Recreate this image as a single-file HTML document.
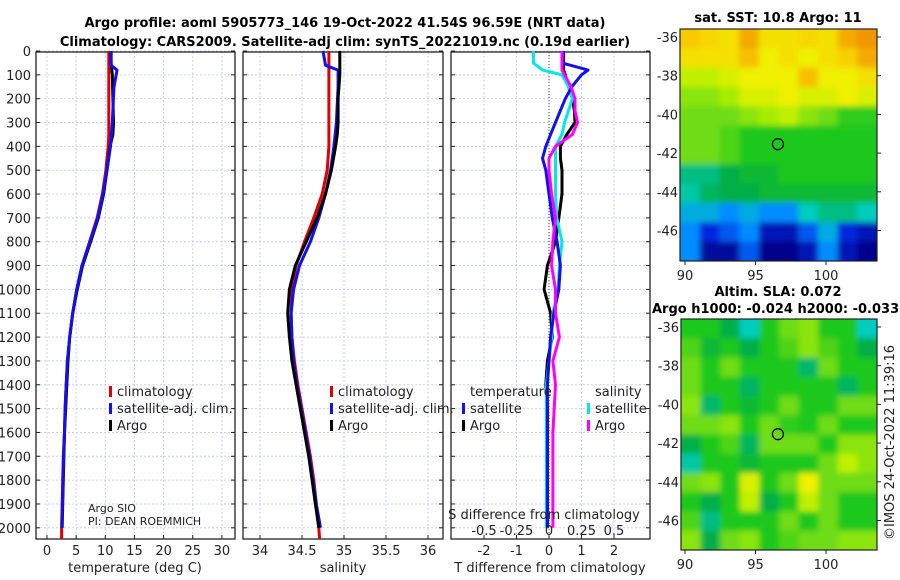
<!DOCTYPE html>
<html><head><meta charset="utf-8"><style>
html,body{margin:0;padding:0;background:#fff;}
svg{display:block;font-family:"DejaVu Sans","Liberation Sans",sans-serif;}
</style></head><body>
<svg id="c" width="900" height="580" viewBox="0 0 900 580" xmlns="http://www.w3.org/2000/svg">
<defs>
<filter id="blur" x="-5%" y="-5%" width="110%" height="110%"><feGaussianBlur stdDeviation="3"/></filter>
<clipPath id="clip1"><rect x="680" y="29" width="197" height="232"/></clipPath>
<clipPath id="clip2"><rect x="681" y="319" width="196" height="231"/></clipPath>
</defs>
<text x="345" y="27" font-size="13" font-weight="bold" text-anchor="middle">Argo profile: aoml 5905773_146 19-Oct-2022 41.54S 96.59E (NRT data)</text>
<text x="345" y="46" font-size="13" font-weight="bold" text-anchor="middle">Climatology: CARS2009. Satellite-adj clim: synTS_20221019.nc (0.19d earlier)</text>
<text x="778" y="22" font-size="13" font-weight="bold" text-anchor="middle">sat. SST: 10.8 Argo: 11</text>
<text x="778" y="296" font-size="13" font-weight="bold" text-anchor="middle">Altim. SLA: 0.072</text>
<text x="652" y="313" font-size="13" font-weight="bold">Argo h1000: -0.024 h2000: -0.033</text>
<text transform="translate(894,540) rotate(-90)" font-size="13" fill="#222">©IMOS 24-Oct-2022 11:39:16</text>
</svg>
<script>
// ---- data ----
const depthTicks=[0,100,200,300,400,500,600,700,800,900,1000,1100,1200,1300,1400,1500,1600,1700,1800,1900,2000];
const tempTicks=[0,5,10,15,20,25,30];
const salTicks=[34,34.5,35,35.5,36];
const salTickLabels=["34","34.5","35","35.5","36"];
const tdTicks=[-2,-1,0,1,2];
const sdTicks=[-0.5,-0.25,0,0.25,0.5];
const sdTickLabels=["-0.5","-0.25","0","0.25","0.5"];
const depths=[0,50,100,200,300,350,400,500,600,700,800,900,1000,1100,1200,1300,1400,1500,1600,1700,1800,1900,2000];
const tempArgo=[11,11,11.2,11.3,11.4,11.3,10.8,10.3,9.7,8.8,7.5,6.1,5.2,4.4,3.9,3.6,3.4,3.2,3.0,2.9,2.8,2.7,2.6];
const depthsClim=[0,50,100,200,300,350,400,500,600,700,800,900,1000,1100,1200,1300,1400,1500,1600,1700,1800,1900,2000,2100];
const tempClim=[10.6,10.6,10.6,10.6,10.6,10.6,10.5,10.1,9.5,8.6,7.3,6.0,5.1,4.4,3.9,3.5,3.3,3.1,3.0,2.8,2.7,2.6,2.5,2.5];
const depthsSat=[0,60,80,150,300,400,500,600,700,800,900,1000,1100,1200,1300,1400,1500,1600,1700,1800,1900,2000];
const tempSat=[11,11,12,11.5,11.2,10.9,10.3,9.6,8.7,7.4,6.0,5.1,4.4,3.9,3.5,3.3,3.1,3.0,2.85,2.75,2.65,2.55];
const salArgo=[34.95,34.95,34.95,34.93,34.93,34.92,34.9,34.85,34.78,34.68,34.55,34.42,34.35,34.33,34.35,34.38,34.43,34.48,34.53,34.58,34.62,34.66,34.7];
const salClim=[34.82,34.82,34.82,34.82,34.82,34.82,34.82,34.8,34.74,34.64,34.53,34.43,34.38,34.37,34.38,34.41,34.45,34.5,34.55,34.6,34.64,34.67,34.7,34.71];
const salSat=[34.75,34.78,34.93,34.93,34.91,34.88,34.84,34.78,34.7,34.6,34.47,34.4,34.37,34.38,34.4,34.44,34.49,34.54,34.59,34.63,34.67,34.72];
const depthsDiff=[0,50,80,100,150,200,250,300,350,400,450,500,600,700,800,900,1000,1100,1200,1300,1400,1500,1600,1700,1800,1900,2000];
const tDiffArgo=[0.45,0.45,0.45,0.5,0.6,0.72,0.78,0.8,0.55,0.35,0.35,0.4,0.4,0.3,0.2,-0.05,-0.15,0.05,0.1,-0.05,-0.1,-0.05,-0.05,-0.05,-0.05,-0.05,-0.05];
const tDiffSat=[0.45,0.4,1.2,1.0,0.7,0.5,0.35,0.2,0.05,-0.1,-0.2,-0.1,0.0,0.1,0.25,0.35,0.3,0.15,0.05,0.0,-0.05,-0.05,-0.05,-0.05,-0.05,-0.05,-0.05];
const sDiffArgo=[0.1,0.1,0.1,0.12,0.17,0.2,0.2,0.22,0.18,0.05,0.0,0.0,0.02,0.05,0.03,0.02,0.05,0.05,0.08,0.03,0.05,0.04,0.03,0.03,0.03,0.03,0.03];
const sDiffSat=[-0.12,-0.12,-0.05,0.1,0.15,0.18,0.15,0.12,0.1,0.05,0.05,0.05,0.05,0.06,0.1,0.08,0.07,0.03,0.02,0.0,-0.02,-0.02,-0.02,-0.02,-0.02,-0.02,-0.02];
const lonTicks=[90,95,100];
const latTicks=[-36,-38,-40,-42,-44,-46];
const sstGrid=[
[0.75,0.73,0.72,0.78,0.72,0.72,0.73,0.72,0.78,0.8],
[0.72,0.72,0.72,0.76,0.7,0.72,0.7,0.72,0.74,0.78],
[0.66,0.66,0.68,0.7,0.7,0.7,0.76,0.7,0.7,0.72],
[0.62,0.62,0.64,0.68,0.68,0.7,0.68,0.68,0.7,0.68],
[0.6,0.6,0.6,0.62,0.64,0.66,0.62,0.6,0.56,0.56],
[0.6,0.6,0.58,0.55,0.55,0.55,0.55,0.55,0.55,0.55],
[0.6,0.6,0.58,0.55,0.55,0.55,0.55,0.55,0.55,0.55],
[0.45,0.45,0.5,0.52,0.52,0.55,0.55,0.55,0.55,0.55],
[0.42,0.48,0.5,0.5,0.52,0.52,0.52,0.52,0.52,0.52],
[0.35,0.35,0.3,0.35,0.3,0.3,0.4,0.45,0.45,0.4],
[0.3,0.2,0.25,0.3,0.15,0.15,0.25,0.35,0.2,0.15],
[0.3,0.12,0.12,0.25,0.1,0.1,0.15,0.3,0.15,0.1]];
const slaGrid=[
[0.55,0.55,0.5,0.4,0.55,0.6,0.62,0.55,0.55,0.4],
[0.58,0.52,0.55,0.5,0.55,0.58,0.62,0.58,0.55,0.5],
[0.6,0.55,0.6,0.55,0.55,0.55,0.47,0.6,0.55,0.55],
[0.6,0.55,0.55,0.48,0.55,0.55,0.55,0.55,0.48,0.55],
[0.62,0.47,0.55,0.52,0.55,0.6,0.55,0.55,0.6,0.6],
[0.6,0.6,0.62,0.55,0.6,0.56,0.55,0.6,0.55,0.55],
[0.5,0.55,0.58,0.48,0.6,0.6,0.6,0.55,0.62,0.62],
[0.42,0.55,0.55,0.52,0.55,0.55,0.55,0.6,0.66,0.62],
[0.6,0.62,0.55,0.68,0.55,0.6,0.7,0.6,0.6,0.6],
[0.55,0.5,0.55,0.66,0.5,0.55,0.66,0.6,0.55,0.55],
[0.58,0.45,0.55,0.55,0.55,0.6,0.55,0.6,0.55,0.55],
[0.62,0.5,0.6,0.62,0.55,0.58,0.6,0.6,0.62,0.62]];
const floatLon=96.59, floatLat=-41.54;

// ---- drawing ----
const svg=document.getElementById('c');
const NS='http://www.w3.org/2000/svg';
function mk(tag,attrs,parent){const e=document.createElementNS(NS,tag);for(const k in attrs)e.setAttribute(k,attrs[k]);(parent||svg).appendChild(e);return e;}
const TOP=52,BOT=539;
const yD=d=>51+d*0.2384;
const panels=[
 {x0:36,x1:235,sx:v=>47+v*5.83,name:'temperature'},
 {x0:243,x1:443,sx:v=>260+(v-34)*84,name:'salinity'},
 {x0:451,x1:650,sx:v=>549+v*32.5,name:'difference'}];
const sS=v=>549+v*130;

panels.forEach((p,i)=>{
  const g=mk('g',{});
  
  
  const ticks=i==0?tempTicks:i==1?salTicks:tdTicks;
  ticks.forEach(t=>{const l=mk('line',{x1:p.sx(t),x2:p.sx(t),y1:TOP,y2:BOT,stroke:'#c8d0ee','stroke-dasharray':'2,2','stroke-width':1},g);
    });
  depthTicks.forEach(d=>{const l=mk('line',{x1:p.x0,x2:p.x1,y1:yD(d),y2:yD(d),stroke:'#c8d0ee','stroke-dasharray':'2,2','stroke-width':1},g);
    
    mk('line',{x1:p.x0,x2:p.x0+4,y1:yD(d),y2:yD(d),stroke:'#222'},g);
    mk('line',{x1:p.x1-4,x2:p.x1,y1:yD(d),y2:yD(d),stroke:'#222'},g);
    if(i==0){const t=mk('text',{x:p.x0-5,y:yD(d)+5,'font-size':13,'text-anchor':'end',fill:'#222'},g);t.textContent=d;
      }
  });
  ticks.forEach((t,k)=>{mk('line',{x1:p.sx(t),x2:p.sx(t),y1:BOT,y2:BOT-4,stroke:'#222'},g);
    const tx=mk('text',{x:p.sx(t),y:BOT+16,'font-size':13,'text-anchor':'middle',fill:'#222'},g);
    tx.textContent=i==1?salTickLabels[k]:t;
    });
  const fr=mk('rect',{x:p.x0,y:TOP,width:p.x1-p.x0,height:BOT-TOP,fill:'none',stroke:'#222','stroke-width':1.3},g);
  
});
const zl=mk('line',{x1:549,x2:549,y1:TOP,y2:BOT,stroke:'#444','stroke-dasharray':'1,2'});


function line(xs,ds,sx,color,name){
  const pts=xs.map((v,k)=>sx(v).toFixed(1)+','+Math.min(BOT,yD(ds[k])).toFixed(1)).join(' ');
  const e=mk('polyline',{points:pts,fill:'none',stroke:color,'stroke-width':3,'stroke-linejoin':'round'});
  
}
line(tempClim,depthsClim,panels[0].sx,'#e00000','temp-climatology-line');
line(tempArgo,depths,panels[0].sx,'#000','temp-argo-line');
line(tempSat,depthsSat,panels[0].sx,'#1010f0','temp-satellite-line');
line(salClim,depthsClim,panels[1].sx,'#e00000','sal-climatology-line');
line(salSat,depthsSat,panels[1].sx,'#1010f0','sal-satellite-line');
line(salArgo,depths,panels[1].sx,'#000','sal-argo-line');
line(tDiffArgo,depthsDiff,panels[2].sx,'#000','tdiff-argo-line');
line(sDiffSat,depthsDiff,sS,'#00e8e8','sdiff-satellite-line');
line(tDiffSat,depthsDiff,panels[2].sx,'#1010f0','tdiff-satellite-line');
line(sDiffArgo,depthsDiff,sS,'#ff00ff','sdiff-argo-line');

function txt(x,y,s,name,opt){const t=mk('text',Object.assign({x:x,y:y,'font-size':13,fill:'#222'},opt||{}));t.textContent=s;
  return t;}
function legend(x,y,color,label){const r=mk('rect',{x:x,y:y-10,width:3,height:11,fill:color});
  
  txt(x+8,y,label,'legend-entry');}
[[109,396,'#e00000','climatology'],[109,413,'#1010f0','satellite-adj. clim.'],[109,430,'#000','Argo'],
 [330,396,'#e00000','climatology'],[330,413,'#1010f0','satellite-adj. clim.'],[330,430,'#000','Argo'],
 [462,413,'#1010f0','satellite'],[462,430,'#000','Argo'],[587,413,'#00e8e8','satellite'],[587,430,'#ff00ff','Argo']]
 .forEach(a=>legend(a[0],a[1],a[2],a[3]));
txt(470,396,'temperature','legend-title-temperature');
txt(595,396,'salinity','legend-title-salinity');
txt(88,512,'Argo SIO','float-institution',{'font-size':11});
txt(88,525,'PI: DEAN ROEMMICH','float-pi',{'font-size':11});
txt(544,519,'S difference from climatology','s-diff-axis-title',{'text-anchor':'middle'});
sdTicks.forEach((t,k)=>txt(sS(t),535,sdTickLabels[k],'s-diff-tick-label',{'text-anchor':'middle'}));
txt(135,572,'temperature (deg C)','x-axis-title-temperature',{'text-anchor':'middle'});
txt(343,572,'salinity','x-axis-title-salinity',{'text-anchor':'middle'});
txt(550,572,'T difference from climatology','x-axis-title-tdiff',{'text-anchor':'middle'});

// colormap
const cmapStops=[[0.1,[0,0,140]],[0.2,[0,40,220]],[0.3,[0,140,255]],[0.4,[0,205,190]],[0.5,[0,175,70]],[0.55,[30,200,30]],[0.6,[110,220,20]],[0.65,[180,240,0]],[0.7,[240,240,0]],[0.75,[250,200,0]],[0.8,[240,150,0]]];
function cmap(v){
  if(v<=cmapStops[0][0])return 'rgb('+cmapStops[0][1]+')';
  for(let i=1;i<cmapStops.length;i++){const a=cmapStops[i-1],b=cmapStops[i];
    if(v<=b[0]){const f=(v-a[0])/(b[0]-a[0]);return 'rgb('+a[1].map((c,k)=>Math.round(c+(b[1][k]-c)*f)).join(',')+')';}}
  return 'rgb('+cmapStops[cmapStops.length-1][1]+')';
}
function map(grid,x0,y0,x1,y1,lat36y,name,clip){
  const lonX=l=>685+(l-90)*14.1, latY=l=>lat36y+(-36-l)*19.35;
  const rows=grid.length,cols=grid[0].length,cw=(x1-x0)/cols,ch=(y1-y0)/rows;
  const g=mk('g',{});
  const cg=mk('g',{'clip-path':'url(#'+clip+')'},g);
  const bg=mk('g',{filter:'url(#blur)'},cg);
  grid.forEach((row,r)=>row.forEach((v,c)=>{
    // extend edge cells outward so blur doesn't fade edges
    const ex=c==0?-8:0, ey=r==0?-8:0, ew=(c==0||c==cols-1)?8:0, eh=(r==0||r==rows-1)?8:0;
    const e=mk('rect',{x:x0+c*cw+ex,y:y0+r*ch+ey,width:cw+0.6+ew,height:ch+0.6+eh,fill:cmap(v)},bg);
    }));
  mk('rect',{x:x0,y:y0,width:x1-x0,height:y1-y0,fill:'none',stroke:'#222','stroke-width':1.2},g);
  lonTicks.forEach(l=>{mk('line',{x1:lonX(l),x2:lonX(l),y1:y1,y2:y1+4,stroke:'#222'},g);
    txt(lonX(l),y1+19,l,'lon-tick-label',{'text-anchor':'middle'});});
  latTicks.forEach(l=>{mk('line',{x1:x1,x2:x1+4,y1:latY(l),y2:latY(l),stroke:'#222'},g);
    txt(x0-2,latY(l)+5,l,'lat-tick-label',{'text-anchor':'end'});});
  const m=mk('circle',{cx:lonX(floatLon),cy:latY(floatLat),r:5.5,fill:'none',stroke:'#000','stroke-width':1.3},g);
  
}
map(sstGrid,680,29,877,261,37,'sst-map','clip1');
map(slaGrid,681,319,877,550,327,'sla-map','clip2');
</script>
</body></html>
